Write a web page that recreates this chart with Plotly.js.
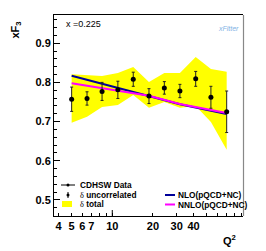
<!DOCTYPE html>
<html>
<head>
<meta charset="utf-8">
<script src="https://cdn.plot.ly/plotly-3.0.1.min.js"></script>
<style>html,body{margin:0;padding:0;background:#fff;}#chart{width:266px;height:251px;}</style>
</head>
<body>
<div id="chart"></div>
<script>
// ---- data ----
const q2 = [5.0, 6.5, 8.4, 11.0, 14.3, 18.7, 24.3, 31.7, 41.5, 53.8, 70.4];
const xf3 = [0.757, 0.759, 0.777, 0.781, 0.808, 0.765, 0.786, 0.778, 0.809, 0.762, 0.725];
const errUncorr = [0.031, 0.017, 0.023, 0.022, 0.018, 0.019, 0.016, 0.017, 0.019, 0.028, 0.053];
const totalUpper = [0.821, 0.819, 0.816, 0.824, 0.839, 0.801, 0.824, 0.824, 0.865, 0.834, 0.827];
const totalLower = [0.697, 0.712, 0.737, 0.742, 0.768, 0.735, 0.750, 0.735, 0.740, 0.699, 0.628];
const theoryQ2 = [5.0, 11.0, 18.7, 31.7, 70.4];
const nlo = [0.817, 0.786, 0.765, 0.744, 0.719];
const nnlo = [0.798, 0.780, 0.766, 0.745, 0.722];
const xTickVals = [4, 5, 6, 7, 10, 20, 30, 40];
const xTickText = ['4', '5', '6', '7', '10', '20', '30', '40'];
const xMinorVals = [8, 9, 50, 60, 70, 80, 90];
const xLabel = 'x =0.225';

// ---- layout helpers (pixel -> paper) ----
const W = 266, H = 251, L = 54, R = 243, T = 15, B = 216;
const px = x => (x - L) / (R - L);
const py = y => (B - y) / (B - T);
const FONT = 'Liberation Sans, Arial, sans-serif';

const traces = [
  {x: q2, y: totalLower, type: 'scatter', mode: 'lines', line: {width: 0, color: '#ffff00'}, hoverinfo: 'skip', showlegend: false},
  {x: q2, y: totalUpper, type: 'scatter', mode: 'lines', fill: 'tonexty', fillcolor: '#ffff00', line: {width: 0, color: '#ffff00'}, showlegend: false},
  {x: theoryQ2, y: nlo, type: 'scatter', mode: 'lines', line: {color: '#000099', width: 2}, showlegend: false},
  {x: theoryQ2, y: nnlo, type: 'scatter', mode: 'lines', line: {color: '#ff00ff', width: 2}, showlegend: false},
  {x: q2, y: xf3, type: 'scatter', mode: 'markers', marker: {color: '#000', size: 5},
   error_y: {type: 'data', array: errUncorr, visible: true, color: '#222', thickness: 1, width: 1.5}, showlegend: false}
];

const legendFont = {family: FONT, size: 8.3, color: '#000', weight: 'bold'};
const delta = "<span style='font-family:Liberation Serif, serif;font-weight:normal'>δ</span>";
const ann = (x, y, text, extra) => Object.assign({xref: 'paper', yref: 'paper', x: px(x), y: py(y), text: text,
  showarrow: false, xanchor: 'left', yanchor: 'middle', font: legendFont}, extra || {});

const annotations = [
  ann(78, 185, 'CDHSW Data'),
  ann(78, 195, delta + ' uncorrelated'),
  ann(78, 204, delta + ' total'),
  ann(176, 195, 'NLO(pQCD+NC)'),
  ann(176, 204.5, 'NNLO(pQCD+NC)'),
  ann(64, 24, xLabel, {font: {family: FONT, size: 9, color: '#000'}}),
  ann(216, 28, '<i>xFitter</i>', {font: {family: FONT, size: 7, color: '#7fb2e5'}}),
  ann(15.5, 30, 'xF<sub>3</sub>', {xanchor: 'center', textangle: -90, font: {family: FONT, size: 11, color: '#000', weight: 'bold'}}),
  ann(229, 240, 'Q<sup>2</sup>', {xanchor: 'center', font: {family: FONT, size: 11, color: '#000', weight: 'bold'}})
];

const line = (x0, y0, x1, y1, color, width) => ({type: 'line', xref: 'paper', yref: 'paper',
  x0: px(x0), y0: py(y0), x1: px(x1), y1: py(y1), line: {color: color, width: width}});

const shapes = [
  // legend symbols
  line(61, 185, 75, 185, '#000', 1),
  {type: 'circle', xref: 'paper', yref: 'paper', x0: px(66.5), x1: px(69.5), y0: py(186.5), y1: py(183.5), fillcolor: '#000', line: {width: 0}},
  line(68, 192, 68, 198, '#000', 1),
  {type: 'circle', xref: 'paper', yref: 'paper', x0: px(66.5), x1: px(69.5), y0: py(196.5), y1: py(193.5), fillcolor: '#000', line: {width: 0}},
  {type: 'rect', xref: 'paper', yref: 'paper', x0: px(62), x1: px(72), y0: py(207), y1: py(201), fillcolor: '#ffff00', line: {width: 0}},
  line(165, 195, 175, 195, '#000099', 2),
  line(165, 204.5, 175, 204.5, '#ff00ff', 2),
  // major tick at 10
  {type: 'line', xref: 'x', yref: 'paper', x0: 10, x1: 10, y0: 0, y1: 6 / (B - T), line: {color: '#000', width: 1}},
  // frame right side (grey)
  line(243.5, 15, 243.5, 216, '#888', 1.2)
];

const layout = {
  width: W, height: H,
  margin: {l: L, r: W - R, t: T, b: H - B, pad: 0},
  paper_bgcolor: '#fff', plot_bgcolor: '#fff',
  showlegend: false,
  font: {family: FONT, color: '#000'},
  xaxis: {
    type: 'log', range: [Math.log10(3.7), Math.log10(93)],
    tickvals: xTickVals, ticktext: xTickText,
    ticks: 'inside', ticklen: 3, tickwidth: 1, tickcolor: '#000',
    minor: {tickvals: xMinorVals, ticks: 'inside', ticklen: 3, tickcolor: '#000'},
    showline: true, linecolor: '#000', linewidth: 1, mirror: true,
    showgrid: false, zeroline: false,
    tickfont: {family: FONT, size: 11, color: '#000', weight: 'bold'}
  },
  yaxis: {
    range: [0.459, 0.972], dtick: 0.1, tick0: 0.5,
    ticks: 'inside', ticklen: 6, tickwidth: 1, tickcolor: '#000',
    minor: {dtick: 0.02, ticks: 'inside', ticklen: 3, tickcolor: '#000'},
    showline: true, linecolor: '#000', linewidth: 1, mirror: false,
    showgrid: false, zeroline: false, tickformat: '.1f',
    tickfont: {family: FONT, size: 11, color: '#000', weight: 'bold'}
  },
  annotations: annotations,
  shapes: shapes
};

Plotly.newPlot('chart', traces, layout, {staticPlot: true, displayModeBar: false});
</script>
</body>
</html>
